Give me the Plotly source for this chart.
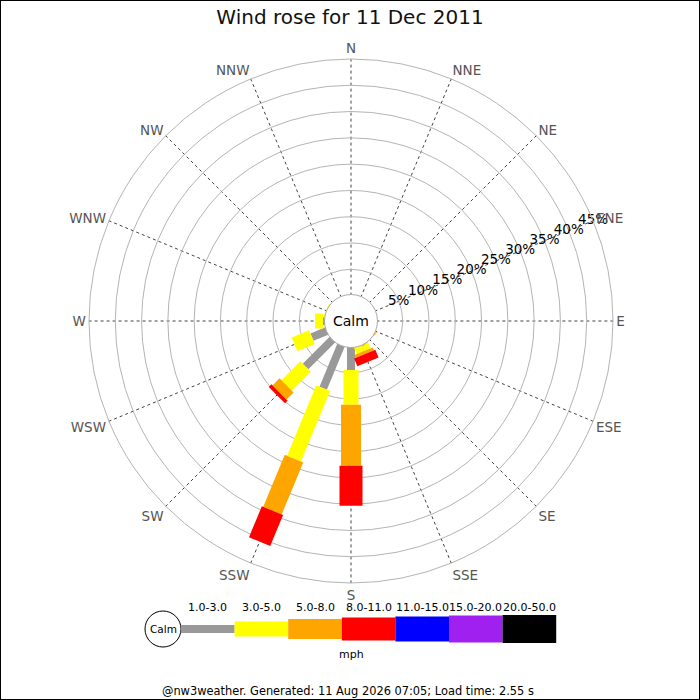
import numpy as np
import plotly.graph_objects as go

# wind rose for 11 Dec 2011 - percent of time per direction & speed band
directions = ["N", "NNE", "NE", "ENE", "E", "ESE", "SE", "SSE",
              "S", "SSW", "SW", "WSW", "W", "WNW", "NW", "NNW"]
speed_ranges = ["1.0-3.0", "3.0-5.0", "5.0-8.0", "8.0-11.0",
                "11.0-15.0", "15.0-20.0", "20.0-50.0"]

#                N  NNE NE ENE E ESE  SE    SSE  S     SSW   SW   WSW  W    WNW  NW NNW
pct_1_3 =      [0, 0, 0, 0, 0, 0, 0,    0,   4.5,  9.0,  7.4, 3.2, 0.5, 0,   0, 0]
pct_3_5 =      [0, 0, 0, 0, 0, 0, 0.05, 1.4, 6.6,  14.5, 5.1, 3.6, 1.5, 0.3, 0, 0]
pct_5_8 =      [0, 0, 0, 0, 0, 0, 0.15, 0.6, 11.6, 10.7, 1.9, 0,   0,   0,   0, 0]
pct_8_11 =     [0, 0, 0, 0, 0, 0, 0,    1.6, 7.6,  6.4,  0.7, 0,   0,   0,   0, 0]
pct_11_15 =    [0] * 16
pct_15_20 =    [0] * 16
pct_20_50 =    [0] * 16

radial_ticks = [5, 10, 15, 20, 25, 30, 35, 40, 45]

title_text = "Wind rose for 11 Dec 2011"
footer_text = "@nw3weather. Generated: 11 Aug 2026 07:05; Load time: 2.55 s"

# styling per speed band (colour, bar thickness in px)
band_colors = ["#999999", "#ffff00", "#ffa500", "#ff0000", "#0000ff", "#a020f0", "#000000"]
band_widths = [8, 15, 20, 23, 25, 27, 28]

W, H = 700, 700
cx, cy, R = 351, 321, 262      # centre & outer radius in px (cy from top)
calm_r = 25.4

angles = [i * 22.5 for i in range(16)]
bands = [pct_1_3, pct_3_5, pct_5_8, pct_8_11, pct_11_15, pct_15_20, pct_20_50]


def px(x):
    return x / W


def py(y):
    # pixel row (from top) -> paper y
    return (H - y) / H


fig = go.Figure()

# stacked bars: each band starts where the previous one stopped
cum = np.zeros(16)
for vals, col, wid in zip(bands, band_colors, band_widths):
    vals = np.array(vals, dtype=float)
    r, th = [], []
    for i in range(16):
        if vals[i] > 0:
            r += [cum[i], cum[i] + vals[i], None]
            th += [angles[i], angles[i], None]
    cum += vals
    if r:
        fig.add_trace(go.Scatterpolar(r=r, theta=th, mode="lines",
                                      line=dict(color=col, width=wid),
                                      connectgaps=False, hoverinfo="skip",
                                      showlegend=False))

# radial percentage labels along the ENE spoke
fig.add_trace(go.Scatterpolar(
    r=radial_ticks, theta=[67.5] * len(radial_ticks), mode="text",
    text=[f"{t}%" for t in radial_ticks],
    textfont=dict(family="DejaVu Sans", size=13.5, color="black"),
    cliponaxis=False, hoverinfo="skip", showlegend=False))

fig.update_layout(
    width=W, height=H,
    margin=dict(l=0, r=0, t=0, b=0),
    paper_bgcolor="white",
    font=dict(family="DejaVu Sans"),
    polar=dict(
        domain=dict(x=[px(cx - R), px(cx + R)], y=[py(cy + R), py(cy - R)]),
        hole=calm_r / R,
        bgcolor="white",
        radialaxis=dict(range=[0, 45], tickvals=radial_ticks, showticklabels=False,
                        ticks="", showline=False, gridcolor="#b4b4b4", gridwidth=1),
        angularaxis=dict(rotation=90, direction="clockwise",
                         tickmode="array", tickvals=angles, ticktext=directions,
                         ticks="", showline=True, linecolor="#b4b4b4", linewidth=1,
                         gridcolor="#444444", griddash="dot", gridwidth=1,
                         tickfont=dict(family="DejaVu Sans", size=13.5, color="#555555")),
    ),
    title=dict(text=title_text, x=0.5, xanchor="center", y=py(17), yanchor="middle",
               font=dict(family="DejaVu Sans", size=20, color="#111111")),
)

shapes = []
annotations = []


def note(text, x, y, size, color="black"):
    annotations.append(dict(text=text, x=px(x), y=py(y), xref="paper", yref="paper",
                            xanchor="center", yanchor="middle", showarrow=False,
                            font=dict(family="DejaVu Sans", size=size, color=color)))


# calm circle in the middle
shapes.append(dict(type="circle", xref="paper", yref="paper",
                   x0=px(cx - 26.5), x1=px(cx + 26.5),
                   y0=py(cy + 26.5), y1=py(cy - 26.5),
                   line=dict(color="#aaaaaa", width=1), fillcolor="white", layer="above"))
note("Calm", cx, cy, 14)

# speed legend underneath
lx0, ly, seg = 181, 629, 53.6
shapes.append(dict(type="circle", xref="paper", yref="paper",
                   x0=px(163 - 18), x1=px(163 + 18), y0=py(ly + 18), y1=py(ly - 18),
                   line=dict(color="black", width=1), fillcolor="white"))
note("Calm", 163, ly, 10.5)
for k, (lab, col, wid) in enumerate(zip(speed_ranges, band_colors, band_widths)):
    x0 = lx0 + k * seg
    shapes.append(dict(type="rect", xref="paper", yref="paper",
                       x0=px(x0), x1=px(x0 + seg),
                       y0=py(ly + wid / 2), y1=py(ly - wid / 2),
                       line=dict(width=0), fillcolor=col))
    note(lab, x0 + seg / 2, 607, 11)
note("mph", 351, 654, 11)
note(footer_text, 348, 691, 11.4)

# frame around the image
shapes.append(dict(type="rect", xref="paper", yref="paper", x0=0, x1=1, y0=0, y1=1,
                   line=dict(color="black", width=2)))

fig.update_layout(shapes=shapes, annotations=annotations)

# page body has a default 8px margin; drop it so the chart sits at the window corner
fig.write_html("out.html", config={"displayModeBar": False},
               post_script="document.body.style.margin='0';")
